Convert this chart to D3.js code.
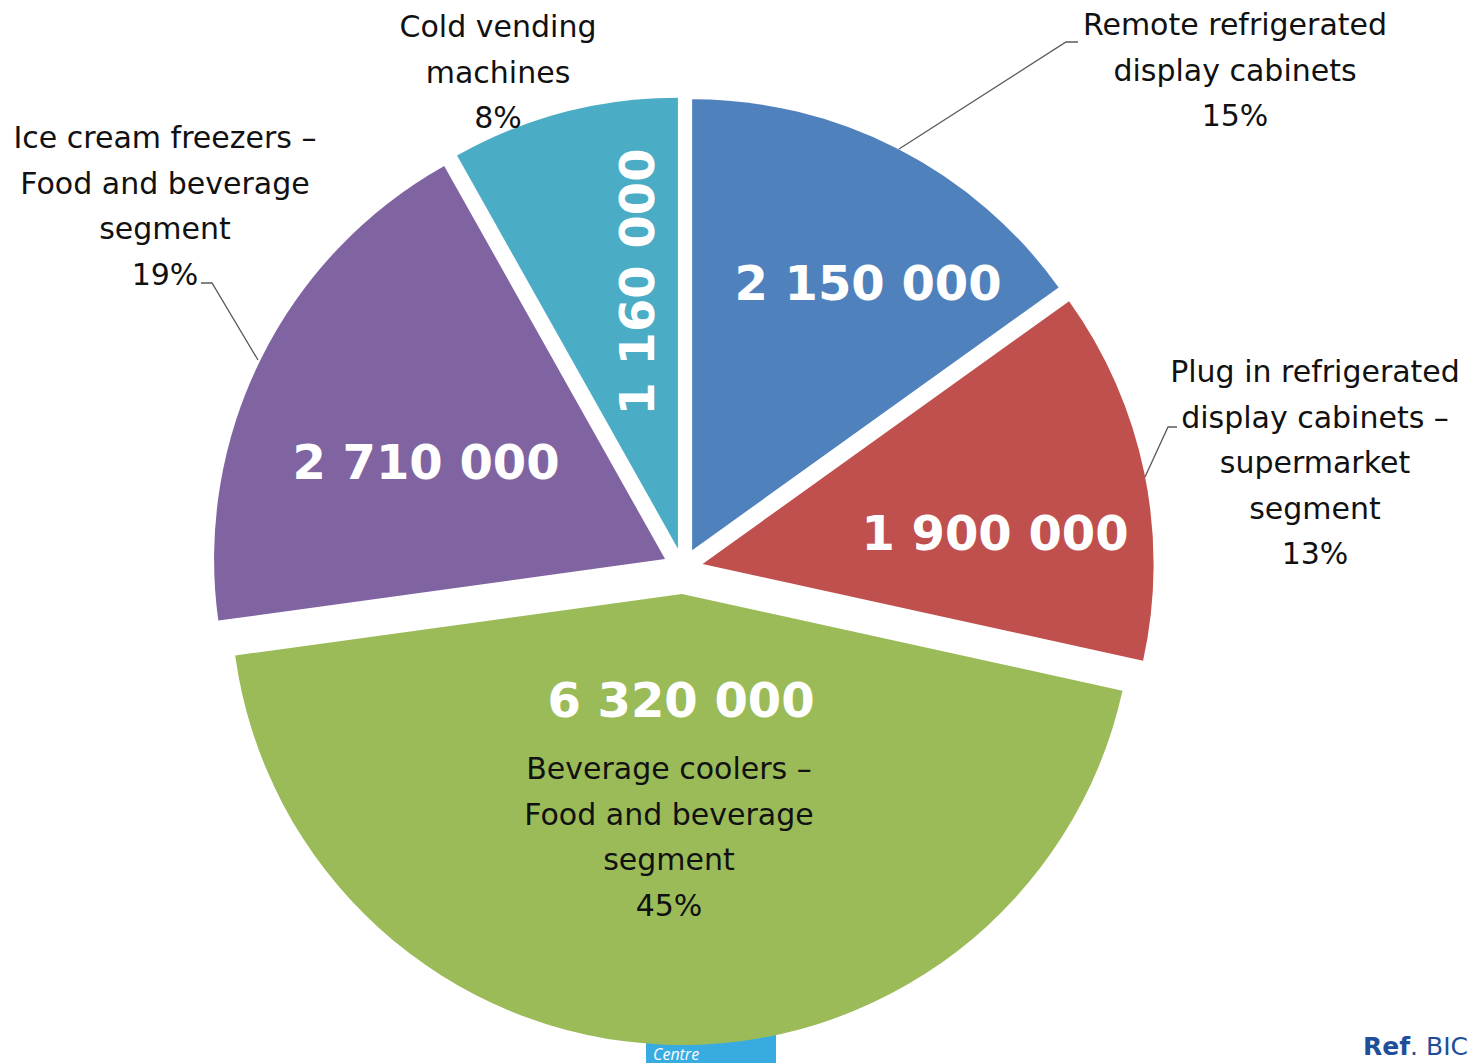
<!DOCTYPE html>
<html>
<head>
<meta charset="utf-8">
<script src="https://cdn.jsdelivr.net/npm/d3@7/dist/d3.min.js"></script>
<style>
  html, body { margin: 0; padding: 0; background: #fff; }
  svg { display: block; }
</style>
</head>
<body>
<svg id="chart" width="1472" height="1063"></svg>
<script>
// Installed base of commercial refrigeration appliances by segment
const categories = [
  ["Remote refrigerated", "display cabinets"],
  ["Plug in refrigerated", "display cabinets \u2013", "supermarket", "segment"],
  ["Beverage coolers \u2013", "Food and beverage", "segment"],
  ["Ice cream freezers \u2013", "Food and beverage", "segment"],
  ["Cold vending", "machines"]
];
const values = [2150000, 1900000, 6320000, 2710000, 1160000];
const valueLabels = ["2 150 000", "1 900 000", "6 320 000", "2 710 000", "1 160 000"];
const percentLabels = ["15%", "13%", "45%", "19%", "8%"];
const colors = ["#4F81BD", "#C0504D", "#9BBB59", "#8064A2", "#4BACC6"];

// Layout
const cx = 683, cy = 568, radius = 451;
const explode = [20, 20, 26, 20, 20];
const lineH = 45.5;

// Value-label anchors (centre of text) and rotation
const valuePos = [
  { x: 868, y: 283, rot: 0 },
  { x: 995, y: 533, rot: 0 },
  { x: 681, y: 700, rot: 0 },
  { x: 426, y: 462, rot: 0 },
  { x: 637, y: 282, rot: -90 }
];
// Category-label anchors: centre x and first baseline
const catPos = [
  { x: 1235, y: 35 },
  { x: 1315, y: 382 },
  { x: 669, y: 779 },
  { x: 165, y: 148 },
  { x: 498, y: 37 }
];
// Leader lines (polyline points) for outside labels
const leaders = [
  [[899, 149], [1066, 42], [1078, 42]],
  [[1145, 477], [1168, 427], [1177, 427]],
  null,
  [[258, 360], [212, 283], [201, 283]],
  null
];

const svg = d3.select("#chart");

// Footer badge sitting behind the pie
const badge = svg.append("g");
badge.append("rect")
  .attr("x", 646).attr("y", 1025).attr("width", 130).attr("height", 40)
  .attr("fill", "#38ACE0");
badge.append("text")
  .attr("x", 653).attr("y", 1060)
  .attr("font-family", "'Open Sans', 'DejaVu Sans', sans-serif")
  .attr("font-style", "italic")
  .attr("font-size", 16)
  .attr("fill", "#fff")
  .text("Centre");

// Reference note at bottom right
const ref = svg.append("text")
  .attr("x", 1363).attr("y", 1055)
  .attr("font-family", "Verdana, 'DejaVu Sans', sans-serif")
  .attr("font-size", 25)
  .attr("fill", "#1F4E9B");
ref.append("tspan").attr("font-weight", "bold").text("Ref");
ref.append("tspan").text(". BIC");

const pie = d3.pie().sort(null).value(d => d);
const arcs = pie(values);
const arc = d3.arc().innerRadius(0).outerRadius(radius);

const g = svg.append("g").attr("transform", `translate(${cx},${cy})`);

g.selectAll("path.slice")
  .data(arcs)
  .join("path")
  .attr("class", "slice")
  .attr("d", arc)
  .attr("fill", (d, i) => colors[i])
  .attr("transform", (d, i) => {
    const a = (d.startAngle + d.endAngle) / 2;
    return `translate(${Math.sin(a) * explode[i]},${-Math.cos(a) * explode[i]})`;
  });

// Leader lines
leaders.forEach(pts => {
  if (!pts) return;
  svg.append("path")
    .attr("d", d3.line()(pts))
    .attr("fill", "none")
    .attr("stroke", "#595959")
    .attr("stroke-width", 1.3);
});

// Value labels
arcs.forEach((d, i) => {
  const p = valuePos[i];
  svg.append("text")
    .attr("transform", `translate(${p.x},${p.y}) rotate(${p.rot})`)
    .attr("text-anchor", "middle")
    .attr("dy", "0.36em")
    .attr("font-family", "'DejaVu Sans', Verdana, sans-serif")
    .attr("font-weight", "bold")
    .attr("font-size", 48)
    .attr("fill", "#fff")
    .text(valueLabels[i]);
});

// Category labels with percentage
arcs.forEach((d, i) => {
  const p = catPos[i];
  const lines = categories[i].concat([percentLabels[i]]);
  const t = svg.append("text")
    .attr("text-anchor", "middle")
    .attr("font-family", "'DejaVu Sans', sans-serif")
    .attr("font-size", 30)
    .attr("fill", "#111");
  lines.forEach((ln, k) => {
    t.append("tspan").attr("x", p.x).attr("y", p.y + k * lineH).text(ln);
  });
});
</script>
</body>
</html>
